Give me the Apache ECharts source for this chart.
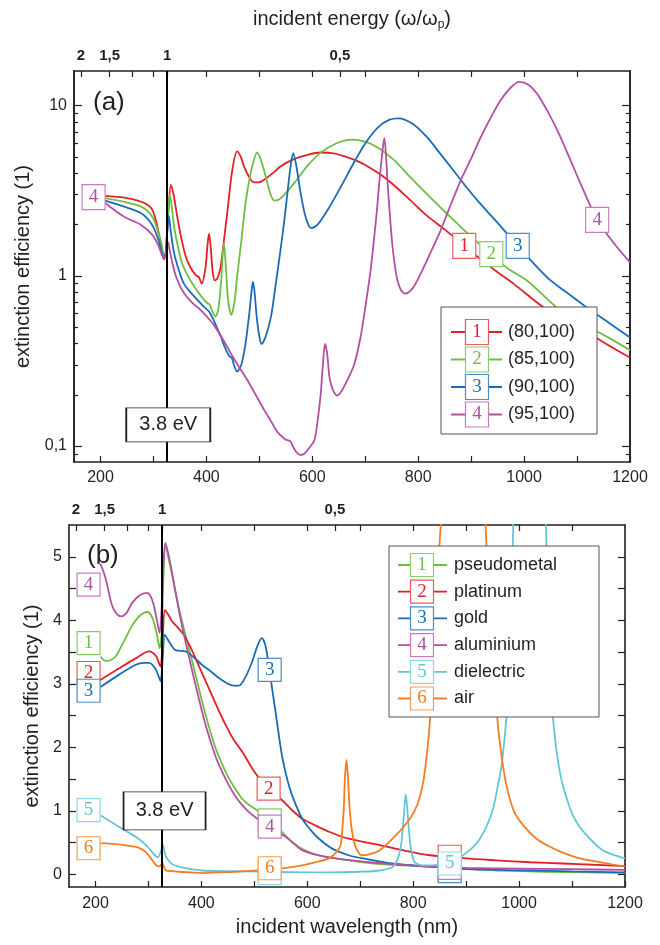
<!DOCTYPE html>
<html>
<head>
<meta charset="utf-8">
<script src="https://cdn.jsdelivr.net/npm/echarts@6/dist/echarts.min.js"></script>
<style>
html,body{margin:0;padding:0;background:#fff;}
#chart{width:660px;height:945px;}
</style>
</head>
<body>
<div id="chart"></div>
<script>
// wavelength (nm) where omega = omega_p, the black vertical line
var lambdaP = 326;
var energyTicks = [2, 1.5, 1, 0.5];
var energyMinor = [1.25];

// (a) extinction efficiency, log scale, [wavelength nm, value]
var a80 = [[209,2.95],[245,2.88],[275,2.74],[290,2.6],[298,2.44],[305,2.1],[310,1.78],[316,1.45],[320,1.28],[323,1.3],[328,2.3],[333,3.43],[338,3.0],[345,2.23],[352,1.7],[361,1.3],[370,1.12],[380,1.01],[386,0.98],[391,0.9],[398,1.1],[402,1.5],[405,1.77],[408,1.5],[412,1.05],[416,0.94],[421,0.97],[427,1.13],[433,1.6],[440,2.44],[449,4.2],[458,5.39],[465,5.0],[471,4.4],[480,3.85],[490,3.54],[500,3.55],[509,3.67],[525,4.0],[540,4.4],[565,4.85],[591,5.15],[616,5.31],[640,5.25],[660,5.05],[680,4.8],[700,4.48],[728,3.95],[750,3.5],[779,2.9],[817,2.25],[855,1.82],[887,1.5],[918,1.25],[950,1.05],[981,0.894],[1037,0.651],[1080,0.54],[1120,0.464],[1160,0.39],[1200,0.331]];
var a85 = [[209,2.86],[245,2.72],[276,2.56],[292,2.35],[301,2.13],[308,1.85],[315,1.56],[320,1.32],[323,1.35],[327,2.2],[331,3.0],[335,2.5],[339,1.95],[346,1.5],[354,1.19],[365,1.0],[377,0.865],[390,0.76],[402,0.69],[406,0.68],[410,0.63],[417,0.576],[423,0.65],[428,0.95],[433,1.56],[437,1.1],[441,0.72],[447,0.59],[453,0.7],[458,0.99],[466,1.6],[474,2.68],[485,4.2],[496,5.31],[504,4.7],[512,3.84],[520,3.1],[528,2.77],[540,2.85],[566,3.51],[590,4.4],[616,5.3],[645,6.0],[675,6.32],[700,6.15],[725,5.65],[754,4.8],[780,3.95],[804,3.31],[830,2.75],[855,2.31],[900,1.7],[938,1.34],[970,1.1],[1006,0.935],[1063,0.646],[1100,0.54],[1150,0.45],[1200,0.366]];
var a90 = [[209,2.77],[245,2.55],[276,2.34],[290,2.15],[301,1.91],[310,1.6],[316,1.36],[320,1.26],[323,1.35],[326,1.8],[329,2.25],[333,1.8],[339,1.36],[348,1.08],[357,0.906],[370,0.8],[383,0.723],[395,0.66],[405,0.617],[416,0.53],[427,0.44],[435,0.38],[443,0.338],[448,0.33],[452,0.3],[458,0.274],[466,0.3],[474,0.402],[481,0.6],[486,0.85],[488,0.926],[491,0.8],[495,0.576],[500,0.44],[504,0.398],[512,0.44],[522,0.576],[530,0.85],[540,1.42],[547,2.1],[553,3.06],[559,4.4],[564,5.27],[570,4.4],[578,3.06],[586,2.3],[593,1.98],[598,1.91],[610,2.0],[629,2.44],[653,3.3],[679,4.65],[700,6.0],[725,7.5],[745,8.25],[763,8.42],[790,7.8],[817,6.51],[840,5.3],[867,4.15],[890,3.35],[918,2.64],[950,2.05],[988,1.5],[1044,0.977],[1080,0.8],[1120,0.646],[1160,0.53],[1200,0.434]];
var a95 = [[209,2.68],[244,2.23],[276,2.0],[298,1.74],[310,1.49],[316,1.33],[320,1.25],[324,1.4],[327,1.59],[331,1.4],[339,1.08],[348,0.9],[358,0.79],[372,0.7],[389,0.631],[400,0.58],[414,0.515],[430,0.43],[446,0.351],[462,0.29],[477,0.245],[493,0.2],[509,0.163],[522,0.14],[534,0.121],[548,0.11],[559,0.106],[563,0.1],[570,0.092],[578,0.0885],[585,0.09],[595,0.098],[604,0.108],[610,0.14],[616,0.204],[620,0.3],[624,0.398],[628,0.35],[632,0.26],[635,0.234],[640,0.21],[647,0.198],[655,0.21],[665,0.24],[679,0.3],[691,0.434],[700,0.65],[710,1.07],[717,1.7],[722,2.41],[726,3.4],[730,4.54],[733,5.6],[736,6.45],[739,5.2],[742,3.62],[746,2.4],[751,1.54],[756,1.15],[761,0.935],[768,0.82],[776,0.787],[790,0.85],[804,1.02],[820,1.3],[842,1.84],[860,2.55],[880,3.62],[900,4.9],[918,6.51],[936,8.4],[955,10.7],[975,12.8],[991,13.8],[1008,13.3],[1025,11.7],[1045,9.2],[1063,7.13],[1085,5.0],[1107,3.46],[1138,2.13],[1170,1.55],[1200,1.2]];

// (b) extinction efficiency, linear scale
var bPseudo = [[209.5,3.43],[219,3.36],[228,3.37],[238,3.43],[247,3.56],[257,3.72],[268,3.9],[279,4.03],[290,4.11],[299,4.13],[305,4.08],[310,3.98],[316,3.78],[321,3.56],[325,3.8],[328,4.6],[332,5.16],[340,4.9],[351,4.45],[360,4.1],[370,3.77],[389,3.14],[408,2.51],[427,1.98],[440,1.72],[452,1.51],[465,1.33],[477,1.19],[490,1.09],[505,1.01],[527,0.85],[549,0.69],[570,0.52],[590,0.4],[620,0.3],[653,0.25],[705,0.19],[760,0.15],[831,0.12],[900,0.085],[957,0.06],[1050,0.04],[1120,0.03],[1200,0.02]];
var bPlatinum = [[209.5,3.06],[244,3.24],[276,3.4],[301,3.51],[308,3.49],[315,3.43],[320,3.32],[323,3.27],[327,3.7],[331,4.16],[338,4.08],[345,3.98],[356,3.88],[367,3.77],[378,3.6],[389,3.4],[401,3.17],[414,2.93],[430,2.63],[446,2.35],[461,2.12],[477,1.93],[490,1.75],[502,1.59],[515,1.46],[527,1.35],[552,1.17],[570,1.02],[590,0.88],[615,0.77],[641,0.67],[678,0.56],[737,0.46],[780,0.38],[831,0.3],[900,0.25],[957,0.22],[1020,0.19],[1083,0.17],[1140,0.15],[1200,0.13]];
var bGold = [[209.5,2.95],[244,3.14],[276,3.3],[292,3.33],[301,3.33],[313,3.24],[320,3.1],[323,3.04],[327,3.4],[331,3.77],[340,3.65],[351,3.53],[370,3.51],[385,3.42],[401,3.3],[417,3.2],[433,3.09],[450,3.0],[461,2.97],[471,2.97],[483,3.1],[496,3.35],[506,3.6],[514,3.72],[521,3.6],[528,3.25],[534,2.9],[540,2.56],[552,1.88],[562,1.5],[571,1.25],[590,0.88],[606,0.7],[622,0.56],[642,0.43],[653,0.38],[678,0.3],[705,0.25],[760,0.17],[831,0.12],[900,0.08],[1020,0.06],[1100,0.045],[1200,0.03]];
var bAlu = [[203,4.9],[209.5,4.88],[219,4.66],[231,4.24],[240,4.1],[249,4.06],[259,4.12],[269,4.27],[283,4.39],[297,4.43],[304,4.38],[310,4.24],[316,4.0],[321,3.8],[325,4.2],[328,4.8],[332,5.22],[340,4.95],[351,4.45],[360,4.05],[370,3.66],[389,2.98],[408,2.35],[427,1.85],[440,1.6],[452,1.4],[465,1.22],[477,1.09],[490,0.98],[505,0.88],[527,0.75],[559,0.59],[575,0.48],[590,0.38],[620,0.3],[653,0.25],[705,0.2],[760,0.16],[831,0.12],[900,0.1],[1000,0.09],[1100,0.08],[1200,0.07]];
var bDielectric = [[209.5,0.93],[244,0.75],[276,0.59],[290,0.5],[301,0.41],[312,0.3],[318,0.27],[323,0.35],[327,0.47],[331,0.33],[335,0.25],[345,0.16],[357,0.12],[380,0.08],[401,0.06],[450,0.05],[527,0.04],[600,0.03],[643,0.03],[700,0.04],[737,0.06],[760,0.11],[768,0.19],[774,0.33],[778,0.51],[782,0.9],[786,1.26],[790,0.9],[794,0.51],[798,0.3],[803,0.19],[812,0.15],[825,0.14],[845,0.15],[869,0.19],[894,0.3],[912,0.42],[926,0.56],[940,0.78],[951,1.04],[960,1.4],[967,1.72],[976,2.46],[982,3.4],[989,5.5],[995,7.5],[1005,10],[1020,12],[1035,10],[1045,7.5],[1052,5.08],[1058,3.4],[1064,2.46],[1077,1.61],[1096,1.04],[1110,0.8],[1127,0.62],[1158,0.38],[1200,0.25]];
var bAir = [[209.5,0.49],[244,0.47],[276,0.43],[286,0.4],[295,0.35],[303,0.27],[310,0.19],[315,0.14],[320,0.12],[324,0.15],[327,0.17],[330,0.1],[333,0.06],[345,0.05],[357,0.04],[380,0.03],[401,0.02],[430,0.03],[464,0.04],[508,0.06],[529,0.07],[560,0.1],[590,0.14],[620,0.2],[641,0.25],[655,0.35],[663,0.46],[667,0.8],[669,1.04],[671,1.5],[674,1.8],[677,1.5],[680,1.04],[684,0.7],[690,0.46],[696,0.35],[702,0.3],[715,0.31],[737,0.38],[768,0.62],[794,0.88],[808,1.1],[819,1.46],[826,1.9],[831,2.35],[837,3.2],[841,3.93],[850,5.24],[860,6.5],[875,10],[897,14],[920,10],[932,6.5],[938,5.24],[945,4.2],[951,3.4],[960,2.35],[968,1.8],[976,1.4],[990,1.0],[1008,0.77],[1030,0.58],[1052,0.46],[1080,0.35],[1115,0.25],[1160,0.18],[1200,0.12]];

var namesA = ['(80,100)', '(85,100)', '(90,100)', '(95,100)'];
var namesB = ['pseudometal', 'platinum', 'gold', 'aluminium', 'dielectric', 'air'];

// numbered curve labels: [wavelength, value, curve number]
var tagsA = [[187,2.9,4],[887,1.5,1],[938,1.34,2],[988,1.5,3],[1138,2.13,4]];
var tagsB = [[187,3.64,1],[187,3.17,2],[187,2.89,3],[187,4.56,4],[187,1.01,5],[187,0.41,6],
             [529,0.85,1],[527,1.35,2],[529,3.22,3],[529,0.75,4],[529,0.02,5],[529,0.095,6],
             [869,0.07,1],[869,0.276,2],[869,0.05,3],[869,0.1,4],[869,0.17,5]];
var noteA = [328, 0.133];
var noteB = [330.5, 1.0];

var FONT = 'Liberation Sans, Arial, sans-serif';
var SERIF = 'Liberation Serif, Times New Roman, serif';
var INK = '#231f20';
// colours by curve number in each panel
var colA = ['#e41f26', '#6fbe44', '#1a6db5', '#b44fa5'];
var boxA = ['#ee5a5f', '#8ccb6a', '#4a8cc8', '#c77bbd'];
var colB = ['#6fbe44', '#e41f26', '#1a6db5', '#b44fa5', '#62c6d6', '#f47d20'];
var boxB = ['#8ccb6a', '#ee5a5f', '#4a8cc8', '#c77bbd', '#8fd7e2', '#f79c55'];

var axisLineStyle = {color: INK, width: 1.6};
var tickStyle = {color: INK, width: 1.2};

function range(a, b, s) { var r = []; for (var v = a; v <= b + 1e-9; v += s) r.push(+v.toFixed(3)); return r; }
function comma(v) { return String(+v.toFixed(2)).replace('.', ','); }
var plainFmt = function (v) { return String(v); };

function xAx(o) {
    return {
        type: 'value', gridIndex: o.grid, position: o.pos, min: 150, max: 1200,
        axisLine: {show: true, onZero: false, lineStyle: axisLineStyle},
        axisTick: {show: true, inside: true, length: o.len || 6, customValues: o.ticks, lineStyle: tickStyle},
        axisLabel: {show: !!o.labels, customValues: o.labels, formatter: o.fmt || plainFmt, margin: o.margin || 8,
            color: INK, fontSize: o.fs || 16, fontFamily: FONT, fontWeight: o.fw || 'normal'},
        splitLine: {show: false},
        name: o.name || '', nameLocation: 'middle', nameGap: o.gap || 30, nameTextStyle: o.nts
    };
}
function yAx(o) {
    return {
        type: o.type, gridIndex: o.grid, position: o.pos, min: o.min, max: o.max, offset: 0,
        axisLine: {show: true, onZero: false, lineStyle: axisLineStyle},
        axisTick: {show: true, inside: true, length: o.len || 7, customValues: o.ticks, lineStyle: tickStyle},
        axisLabel: {show: !!o.labels, customValues: o.labels, formatter: o.fmt || plainFmt, margin: 7,
            color: INK, fontSize: 16, fontFamily: FONT},
        splitLine: {show: false}, minorTick: {show: false},
        name: o.name || '', nameLocation: 'middle', nameGap: 27,
        nameTextStyle: {fontSize: 20, color: INK, fontFamily: FONT}
    };
}

var energyPos = energyTicks.map(function (e) { return lambdaP / e; });
var topTicks = energyPos.concat(energyMinor.map(function (e) { return lambdaP / e; }), range(300, 1100, 100));
var energyFmt = function (v) { return comma(lambdaP / v); };
var nameStyle = {fontSize: 20, color: INK, fontFamily: FONT};
var topNameStyle = {fontSize: 20, color: INK, fontFamily: FONT,
    rich: {s: {fontSize: 12, color: INK, fontFamily: FONT, padding: [12, 0, 0, 0]}}};

var majorLog = [0.1, 1, 10];
var minorLog = [0.09].concat(range(0.2, 0.9, 0.1), range(2, 9, 1));
var logFmt = function (v) { return comma(v); };

var xAxes = [
    xAx({grid: 0, pos: 'bottom', ticks: range(200, 1200, 100), labels: range(200, 1200, 200), margin: 8}),
    xAx({grid: 0, pos: 'top', ticks: topTicks, labels: energyPos, fmt: energyFmt, fs: 15, fw: 'bold', margin: 8,
        name: 'incident energy (ω/ω{s|p})', gap: 40, nts: topNameStyle}),
    xAx({grid: 1, pos: 'bottom', ticks: range(200, 1200, 100), labels: range(200, 1200, 200), margin: 9,
        name: 'incident wavelength (nm)', gap: 30, nts: nameStyle}),
    xAx({grid: 1, pos: 'top', ticks: topTicks, labels: energyPos, fmt: energyFmt, fs: 15, fw: 'bold', margin: 8})
];
var yAxes = [
    yAx({grid: 0, pos: 'left', type: 'log', min: 0.0805, max: 16, ticks: majorLog, labels: majorLog, fmt: logFmt, len: 8,
        name: 'extinction efficiency (1)'}),
    yAx({grid: 0, pos: 'left', type: 'log', min: 0.0805, max: 16, ticks: minorLog, len: 4}),
    yAx({grid: 0, pos: 'right', type: 'log', min: 0.0805, max: 16, ticks: majorLog, len: 8}),
    yAx({grid: 0, pos: 'right', type: 'log', min: 0.0805, max: 16, ticks: minorLog, len: 4}),
    yAx({grid: 1, pos: 'left', type: 'value', min: -0.2, max: 5.5, ticks: range(0, 5, 0.5), labels: range(0, 5, 1), len: 7,
        name: 'extinction efficiency (1)'}),
    yAx({grid: 1, pos: 'right', type: 'value', min: -0.2, max: 5.5, ticks: range(0, 5, 0.5), len: 7})
];

function curve(data, color, xi, yi) {
    return {type: 'line', xAxisIndex: xi, yAxisIndex: yi, data: data, showSymbol: false,
        smooth: 0.3, lineStyle: {color: color, width: 1.8},
        itemStyle: {color: color}, z: 2, silent: true};
}
// a label box whose number would be covered by a later box (same place) shows no number
function tagSeries(tags, cols, boxes, size, xi, yi, near) {
    return {type: 'scatter', xAxisIndex: xi, yAxisIndex: yi, z: 4, silent: true,
        data: tags.map(function (t, i) {
            var k = t[2] - 1;
            var covered = tags.slice(i + 1).some(function (u) {
                return Math.abs(u[0] - t[0]) < 5 && Math.abs(u[1] - t[1]) < near;
            });
            return {value: [t[0], t[1]], symbol: 'rect', symbolSize: size,
                itemStyle: {color: '#fff', borderColor: boxes[k], borderWidth: 1.2, opacity: 1},
                label: {show: !covered, position: 'inside', formatter: String(t[2]), color: cols[k],
                    fontFamily: SERIF, fontSize: 19}};
        })};
}
function noteSeries(pt, size, xi, yi) {
    return {type: 'scatter', xAxisIndex: xi, yAxisIndex: yi, z: 5, silent: true,
        data: [{value: pt, symbol: 'rect', symbolSize: size,
            itemStyle: {color: '#fff', borderColor: INK, borderWidth: 1.2, opacity: 1},
            label: {show: true, position: 'inside', formatter: '3.8 eV', color: INK, fontFamily: FONT, fontSize: 20}}]};
}
function plasmaLine(xi, yi) {
    return {type: 'line', xAxisIndex: xi, yAxisIndex: yi, data: [], z: 3, silent: true,
        markLine: {silent: true, symbol: 'none', label: {show: false}, animation: false,
            lineStyle: {color: '#000', width: 2, type: 'solid'}, data: [{xAxis: lambdaP}]}};
}

function legendBox(names, cols, boxes, x, y, w, h, row0, step, stub0, stub1, bx, bw, bh, tx) {
    var els = [{type: 'rect', shape: {x: x, y: y, width: w, height: h}, z: 100,
        style: {fill: '#fff', stroke: '#555', lineWidth: 1}}];
    names.forEach(function (n, i) {
        var cy = row0 + i * step;
        els.push({type: 'line', z: 101, shape: {x1: stub0, y1: cy, x2: stub1, y2: cy},
            style: {stroke: cols[i], lineWidth: 1.8}});
        els.push({type: 'rect', z: 102, shape: {x: bx - bw / 2, y: cy - bh / 2, width: bw, height: bh},
            style: {fill: '#fff', stroke: boxes[i], lineWidth: 1.2}});
        els.push({type: 'text', z: 103, x: bx, y: cy, style: {text: String(i + 1), fill: cols[i],
            font: '19px ' + SERIF, align: 'center', verticalAlign: 'middle'}});
        els.push({type: 'text', z: 103, x: tx, y: cy, style: {text: n, fill: INK,
            font: '18px ' + FONT, align: 'left', verticalAlign: 'middle'}});
    });
    return els;
}

var chart = echarts.init(document.getElementById('chart'));
chart.setOption({
    animation: false,
    backgroundColor: '#fff',
    grid: [
        {left: 74, top: 71, width: 556, height: 391},
        {left: 69, top: 525, width: 556, height: 362}
    ],
    xAxis: xAxes,
    yAxis: yAxes,
    series: [
        curve(a80, colA[0], 0, 0), curve(a85, colA[1], 0, 0), curve(a90, colA[2], 0, 0), curve(a95, colA[3], 0, 0),
        plasmaLine(0, 0), tagSeries(tagsA, colA, boxA, [23, 25], 0, 0, 0), noteSeries(noteA, [84, 34], 0, 0),
        curve(bPseudo, colB[0], 2, 4), curve(bPlatinum, colB[1], 2, 4), curve(bGold, colB[2], 2, 4),
        curve(bAlu, colB[3], 2, 4), curve(bDielectric, colB[4], 2, 4), curve(bAir, colB[5], 2, 4),
        plasmaLine(2, 4), tagSeries(tagsB, colB, boxB, [23, 23], 2, 4, 0.2), noteSeries(noteB, [82, 38], 2, 4)
    ],
    graphic: [
        {type: 'text', z: 100, x: 93, y: 103, style: {text: '(a)', fill: INK, font: '26px ' + FONT, verticalAlign: 'middle'}},
        {type: 'text', z: 100, x: 87, y: 556, style: {text: '(b)', fill: INK, font: '26px ' + FONT, verticalAlign: 'middle'}}
    ].concat(
        legendBox(namesA, colA, boxA, 441, 307, 156, 127, 332, 27.5, 451, 502, 477, 23, 25, 508),
        legendBox(namesB, colB, boxB, 389, 546, 210, 171, 565, 26.7, 398, 447, 422, 23, 23, 454)
    )
});
</script>
</body>
</html>
